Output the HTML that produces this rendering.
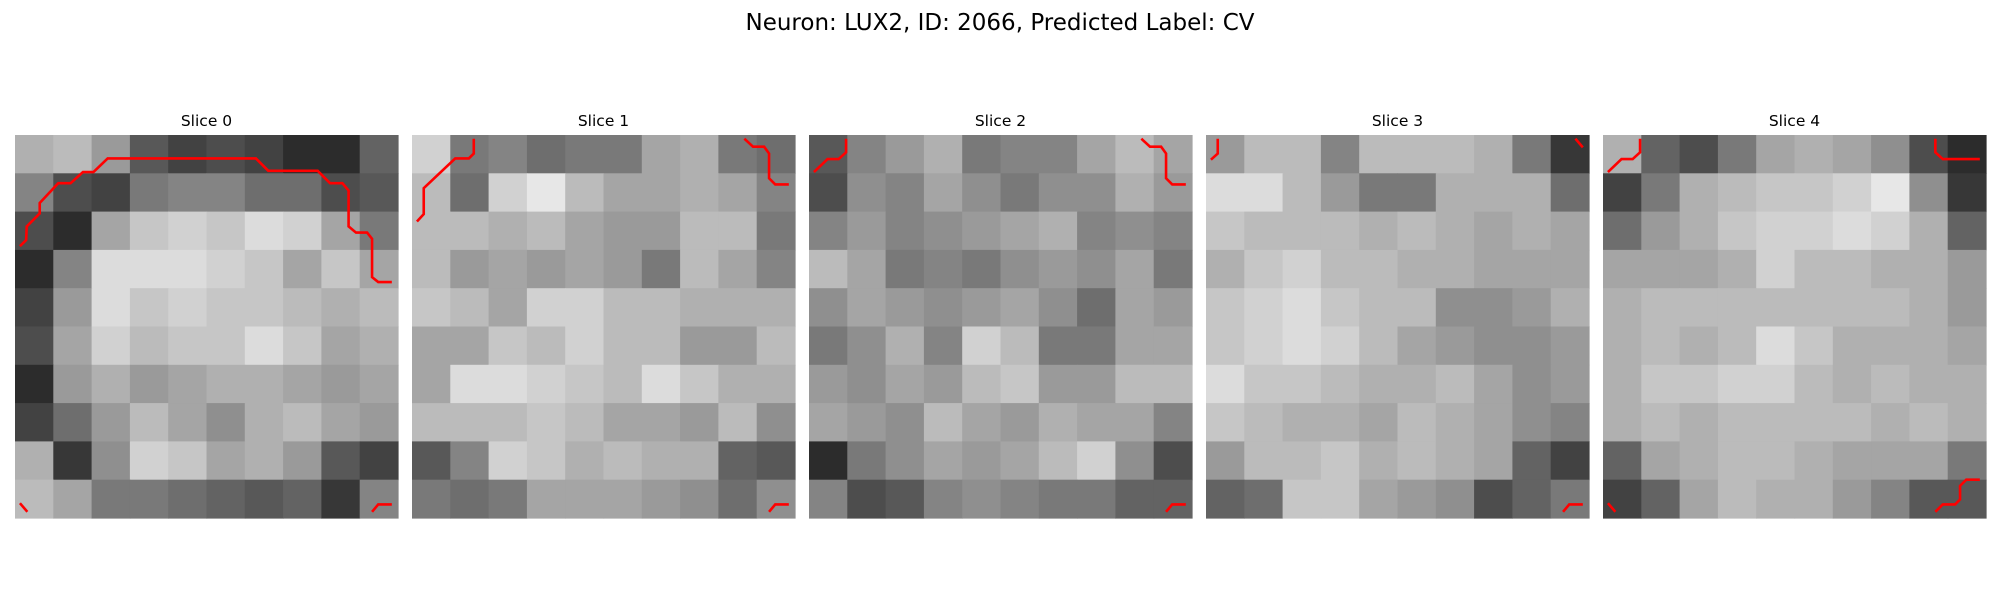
<!DOCTYPE html>
<html><head><meta charset="utf-8"><style>
html,body{margin:0;padding:0;background:#fff;}
svg{display:block;}
text{font-family:"DejaVu Sans","Liberation Sans",sans-serif;}
</style></head><body>
<svg id="fig" width="2000" height="600" viewBox="0 0 2000 600">
<text x="1000" y="30" text-anchor="middle" font-size="23" fill="#000">Neuron: LUX2, ID: 2066, Predicted Label: CV</text>
</svg>
<script>
const sliceTitles = ["Slice 0","Slice 1","Slice 2","Slice 3","Slice 4"];
const slice0 = [
[160,170,140,80,60,70,60,40,40,90],
[120,70,60,110,120,120,100,100,70,80],
[70,40,150,180,190,180,200,190,150,110],
[40,120,200,200,200,190,180,150,180,150],
[60,140,200,180,190,180,180,170,160,170],
[70,150,190,170,180,180,200,180,150,160],
[40,140,160,140,150,160,160,150,140,150],
[60,100,140,170,150,130,160,170,150,140],
[160,50,130,190,180,150,160,140,80,60],
[170,150,110,110,100,90,80,90,50,120]];
const slice1 = [
[190,110,120,100,110,110,150,160,110,100],
[170,100,190,210,170,150,150,160,150,120],
[170,170,160,170,150,140,140,170,170,110],
[170,140,150,140,150,140,110,170,150,120],
[180,170,150,190,190,170,170,160,160,160],
[150,150,180,170,190,170,170,140,140,170],
[150,200,200,190,180,170,200,180,160,160],
[170,170,170,180,170,150,150,140,170,130],
[80,120,190,180,160,170,160,160,90,80],
[110,100,110,150,150,150,140,130,100,130]];
const slice2 = [
[80,120,140,160,110,120,120,150,170,150],
[70,130,120,150,130,110,130,130,160,140],
[120,140,120,130,140,150,160,120,130,120],
[170,150,110,120,110,130,140,130,150,110],
[130,150,140,130,140,150,130,100,150,140],
[110,130,160,120,190,170,110,110,150,150],
[140,130,150,140,170,180,140,140,170,170],
[150,140,130,170,150,140,160,150,150,120],
[40,110,130,150,140,150,170,190,130,70],
[120,70,80,120,130,120,110,110,90,90]];
const slice3 = [
[140,170,170,120,170,170,170,160,110,50],
[200,200,170,140,110,110,160,160,160,100],
[180,170,170,170,160,170,160,150,160,150],
[160,180,190,170,170,160,160,150,150,150],
[180,190,200,180,170,170,130,130,140,160],
[180,190,200,190,170,150,140,130,130,140],
[200,180,180,170,160,160,170,150,130,140],
[180,170,160,160,150,170,160,150,130,120],
[140,170,170,180,160,170,160,150,90,60],
[90,100,180,180,150,140,130,70,90,110]];
const slice4 = [
[160,90,70,110,150,160,150,130,70,40],
[60,110,160,170,180,180,190,210,130,50],
[100,140,160,180,190,190,200,190,160,90],
[150,150,150,160,190,170,170,160,160,140],
[160,170,170,170,170,170,170,170,160,140],
[160,170,160,170,200,180,160,160,160,150],
[160,180,180,190,190,170,160,170,160,160],
[160,170,160,170,170,170,170,160,170,160],
[90,150,160,170,170,160,150,150,150,110],
[60,90,150,170,160,160,140,120,80,80]];
const slices = [slice0,slice1,slice2,slice3,slice4];
const contours0 = [
[[0.4,9.0],[0.9,8.5],[0.95,7.4],[2.0,6.35],[2.0,5.5],[3.5,3.9],[4.5,3.9],[5.5,3.0],[6.35,3.0],[7.5,1.9],[19.5,1.9],[20.5,2.9],[24.5,2.9],[25.5,3.9],[26.5,3.9],[27.0,4.5],[27.0,7.4],[27.6,7.9],[28.5,7.9],[28.9,8.4],[28.9,11.5],[29.4,11.9],[30.5,11.9]],
[[0.4,29.8],[1.0,30.5]],
[[28.9,30.5],[29.4,29.9],[30.5,29.9]]];
const contours1 = [
[[0.4,7.0],[0.95,6.4],[0.95,4.3],[3.5,1.9],[4.6,1.9],[5.0,1.5],[5.0,0.3]],
[[26.9,0.3],[27.6,0.95],[28.5,0.95],[28.9,1.5],[28.9,3.5],[29.4,4.0],[30.5,4.0]],
[[28.9,30.5],[29.4,29.9],[30.5,29.9]]];
const contours2 = [
[[0.4,3.0],[1.5,1.95],[2.4,1.95],[3.0,1.4],[3.0,0.3]],
[[26.9,0.3],[27.6,0.95],[28.5,0.95],[28.9,1.5],[28.9,3.5],[29.4,4.0],[30.5,4.0]],
[[28.9,30.5],[29.4,29.9],[30.5,29.9]]];
const contours3 = [
[[0.4,2.0],[0.95,1.5],[0.95,0.3]],
[[29.9,0.3],[30.5,1.0]],
[[28.9,30.5],[29.4,29.9],[30.5,29.9]]];
const contours4 = [
[[0.4,3.0],[1.5,1.95],[2.4,1.95],[3.0,1.4],[3.0,0.3]],
[[26.9,0.3],[26.9,1.4],[27.5,1.95],[30.5,1.95]],
[[26.9,30.5],[27.5,29.9],[28.5,29.9],[28.9,29.5],[28.9,28.4],[29.4,27.9],[30.5,27.9]],
[[0.4,29.8],[1.0,30.5]]];
const contours = [contours0,contours1,contours2,contours3,contours4];

const NS="http://www.w3.org/2000/svg";
const svg=document.getElementById('fig');
const panelX0=15, panelStep=397, panelY=135, panelSize=383, gridN=31, gain=1.1;
function px(i,c){return panelX0+i*panelStep+c*panelSize/gridN;}
function py(c){return panelY+c*panelSize/gridN;}
slices.forEach((grid,i)=>{
  const g=document.createElementNS(NS,'g');
  
  
  svg.appendChild(g);
  const t=document.createElementNS(NS,'text');
  
  
  t.setAttribute('x',panelX0+i*panelStep+panelSize/2);
  t.setAttribute('y',126);
  t.setAttribute('text-anchor','middle');
  t.setAttribute('font-size','15.5');
  t.textContent=sliceTitles[i];
  g.appendChild(t);
  const rows=grid.length, cols=grid[0].length;
  const cw=panelSize/cols, ch=panelSize/rows;
  grid.forEach((row,r)=>row.forEach((v,c)=>{
    const rect=document.createElementNS(NS,'rect');
    
    
    rect.setAttribute('x',panelX0+i*panelStep+c*cw);
    rect.setAttribute('y',panelY+r*ch);
    rect.setAttribute('width',cw+0.6);
    rect.setAttribute('height',ch+0.6);
    const s=Math.min(255,Math.round(v*gain));
    rect.setAttribute('fill','rgb('+s+','+s+','+s+')');
    g.appendChild(rect);
  }));
  contours[i].forEach(line=>{
    const pl=document.createElementNS(NS,'polyline');
    
    
    pl.setAttribute('points',line.map(p=>px(i,p[0])+','+py(p[1])).join(' '));
    pl.setAttribute('fill','none');
    pl.setAttribute('stroke','#ff0000');
    pl.setAttribute('stroke-width','2.6');
    g.appendChild(pl);
  });
});
</script>
</body></html>
